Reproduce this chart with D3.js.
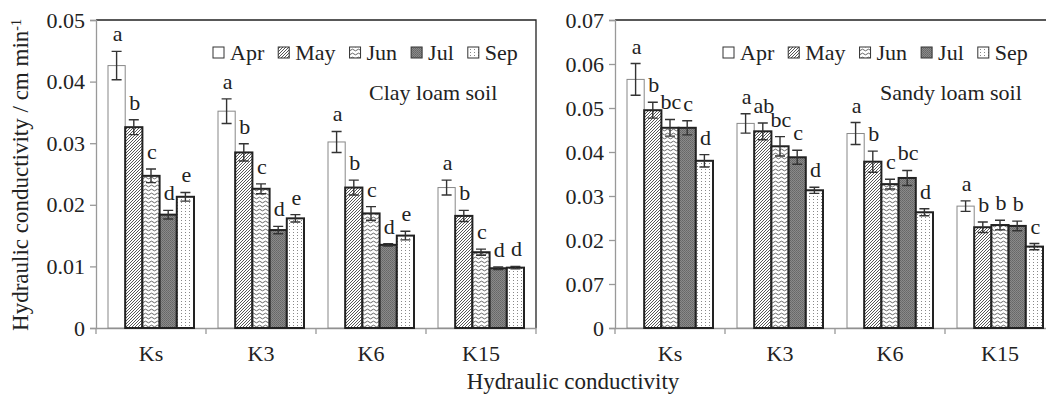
<!DOCTYPE html>
<html lang="en">
<head>
  <meta charset="UTF-8">
  <script src="https://d3js.org/d3.v7.min.js"></script>
  <title>Hydraulic conductivity</title>
  <style>
    body { margin: 0; background: #fff; }
    text { font-family: "Liberation Serif", "DejaVu Serif", serif; fill: #222; }
  </style>
</head>
<body>
  <script>
    // data
    var categories = ["Ks", "K3", "K6", "K15"];
    var months = ["Apr", "May", "Jun", "Jul", "Sep"];

    // clay loam: one row per category, one value per month
    var clayValues = [
      [0.0426, 0.0326, 0.0247, 0.0184, 0.0213],
      [0.0352, 0.0285, 0.0226, 0.0159, 0.0178],
      [0.0302, 0.0228, 0.0186, 0.0135, 0.0150],
      [0.0228, 0.0182, 0.0123, 0.0097, 0.0098]
    ];
    var clayErrors = [
      [0.0023, 0.0012, 0.0011, 0.0007, 0.0007],
      [0.0020, 0.0014, 0.0008, 0.0006, 0.0006],
      [0.0017, 0.0012, 0.0011, 0.0002, 0.0007],
      [0.0012, 0.0009, 0.0005, 0.0002, 0.0002]
    ];
    var clayLetters = [
      ["a", "b", "c", "d", "e"],
      ["a", "b", "c", "d", "e"],
      ["a", "b", "c", "d", "e"],
      ["a", "b", "c", "d", "d"]
    ];

    // sandy loam
    var sandyValues = [
      [0.0565, 0.0495, 0.0455, 0.0455, 0.0380],
      [0.0465, 0.0447, 0.0413, 0.0388, 0.0313],
      [0.0442, 0.0378, 0.0327, 0.0341, 0.0263],
      [0.0277, 0.0229, 0.0234, 0.0232, 0.0185]
    ];
    var sandyErrors = [
      [0.0036, 0.0018, 0.0019, 0.0016, 0.0014],
      [0.0022, 0.0019, 0.0022, 0.0016, 0.0007],
      [0.0025, 0.0024, 0.0011, 0.0017, 0.0008],
      [0.0012, 0.0012, 0.0011, 0.0011, 0.0007]
    ];
    var sandyLetters = [
      ["a", "b", "bc", "c", "d"],
      ["a", "ab", "bc", "c", "d"],
      ["a", "b", "c", "bc", "d"],
      ["a", "b", "b", "b", "c"]
    ];

    var clayTicks = [0, 0.01, 0.02, 0.03, 0.04, 0.05];
    var clayTickLabels = ["0", "0.01", "0.02", "0.03", "0.04", "0.05"];
    var sandyTicks = [0, 0.01, 0.02, 0.03, 0.04, 0.05, 0.06, 0.07];
    var sandyTickLabels = ["0", "0.07", "0.02", "0.03", "0.04", "0.05", "0.06", "0.07"];

    var W = 1046, H = 395;
    var svg = d3.select("body").append("svg")
      .attr("width", W)
      .attr("height", H);

    // fill patterns
    var defs = svg.append("defs");
    var p = defs.append("pattern").attr("id", "pMay")
      .attr("patternUnits", "userSpaceOnUse").attr("width", 3).attr("height", 3);
    p.append("rect").attr("width", 3).attr("height", 3).attr("fill", "#fff");
    p.append("path").attr("d", "M0 3L3 0M-1 1L1 -1M2 4L4 2")
      .attr("stroke", "#444").attr("stroke-width", 0.9);

    p = defs.append("pattern").attr("id", "pJun")
      .attr("patternUnits", "userSpaceOnUse").attr("width", 6).attr("height", 4);
    p.append("rect").attr("width", 6).attr("height", 4).attr("fill", "#fff");
    p.append("path").attr("d", "M0 2Q1.5 0.3 3 2T6 2")
      .attr("fill", "none").attr("stroke", "#555").attr("stroke-width", 0.9);

    p = defs.append("pattern").attr("id", "pJul")
      .attr("patternUnits", "userSpaceOnUse").attr("width", 2).attr("height", 2);
    p.append("rect").attr("width", 2).attr("height", 2).attr("fill", "#8a8a8a");
    p.append("rect").attr("width", 1).attr("height", 1).attr("fill", "#666");
    p.append("rect").attr("x", 1).attr("y", 1).attr("width", 1).attr("height", 1).attr("fill", "#6e6e6e");

    p = defs.append("pattern").attr("id", "pSep")
      .attr("patternUnits", "userSpaceOnUse").attr("width", 4).attr("height", 3);
    p.append("rect").attr("width", 4).attr("height", 3).attr("fill", "#fff");
    p.append("rect").attr("x", 1).attr("y", 1).attr("width", 1).attr("height", 1).attr("fill", "#888");

    var fills = { Apr: "#fff", May: "url(#pMay)", Jun: "url(#pJun)", Jul: "url(#pJul)", Sep: "url(#pSep)" };

    var plotTop = 20, plotBottom = 328;

    function drawPanel(left, width, ymax, ticks, tickLabels, values, errors, letters, title, titleX, legendX) {
      var g = svg.append("g");

      var x = d3.scaleBand().domain(categories).range([left, left + width]);
      var xm = d3.scaleBand().domain(months).range([12, x.bandwidth() - 12]);
      var y = d3.scaleLinear().domain([0, ymax]).range([plotBottom, plotTop]);

      // frame: top and right in black
      g.append("path")
        .attr("d", "M" + left + "," + plotTop + "H" + (left + width) + "V" + plotBottom)
        .attr("fill", "none").attr("stroke", "#222").attr("stroke-width", 1.3);

      // y axis
      var yAxis = d3.axisLeft(y).tickValues(ticks)
        .tickFormat(function (d, i) { return tickLabels[i]; })
        .tickSize(6).tickPadding(5);
      var ga = g.append("g").attr("transform", "translate(" + left + ",0)").call(yAxis);
      ga.select(".domain").attr("stroke", "#999").attr("stroke-width", 1.3);
      ga.selectAll(".tick line").attr("stroke", "#999").attr("stroke-width", 1.3);
      ga.selectAll(".tick text").attr("font-size", 22)
        .attr("font-family", "Liberation Serif").attr("fill", "#222");

      // x axis with ticks between categories
      var xAxis = d3.axisBottom(x).tickSize(0).tickPadding(17);
      var gx = g.append("g").attr("transform", "translate(0," + plotBottom + ")").call(xAxis);
      gx.select(".domain").attr("stroke", "#999").attr("stroke-width", 1.3);
      gx.selectAll(".tick text").attr("font-size", 22)
        .attr("font-family", "Liberation Serif").attr("fill", "#222");
      var edges = categories.map(function (c) { return x(c); }).concat([left + width]);
      g.selectAll(".xsep").data(edges).enter().append("line")
        .attr("x1", function (d) { return d; }).attr("x2", function (d) { return d; })
        .attr("y1", plotBottom).attr("y2", plotBottom + 6)
        .attr("stroke", "#999").attr("stroke-width", 1.3);

      // bars
      var rows = [];
      categories.forEach(function (c, i) {
        months.forEach(function (m, j) {
          rows.push({ c: c, m: m, v: values[i][j], e: errors[i][j], l: letters[i][j] });
        });
      });

      g.selectAll(".bar").data(rows).enter().append("rect")
        .attr("x", function (d) { return x(d.c) + xm(d.m); })
        .attr("y", function (d) { return y(d.v); })
        .attr("width", xm.bandwidth())
        .attr("height", function (d) { return plotBottom - y(d.v); })
        .attr("fill", function (d) { return fills[d.m]; })
        .attr("stroke", function (d) { return d.m === "Apr" ? "#888" : "#222"; })
        .attr("stroke-width", function (d) { return d.m === "Apr" ? 1 : 2; });

      // error bars
      var cap = 5;
      var eb = g.selectAll(".err").data(rows).enter().append("g")
        .attr("transform", function (d) { return "translate(" + (x(d.c) + xm(d.m) + xm.bandwidth() / 2) + ",0)"; });
      eb.append("path")
        .attr("d", function (d) {
          var y1 = y(d.v + d.e), y0 = y(d.v - d.e);
          return "M0," + y0 + "V" + y1 + "M" + (-cap) + "," + y1 + "H" + cap + "M" + (-cap) + "," + y0 + "H" + cap;
        })
        .attr("fill", "none").attr("stroke", "#333").attr("stroke-width", 1.4);

      // significance letters
      g.selectAll(".lt").data(rows).enter().append("text")
        .attr("x", function (d) { return x(d.c) + xm(d.m) + xm.bandwidth() / 2 + 1; })
        .attr("y", function (d) { return y(d.v + d.e) - 10; })
        .attr("text-anchor", "middle")
        .attr("font-size", 22)
        .text(function (d) { return d.l; });

      // panel title
      g.append("text").attr("x", titleX).attr("y", 100).attr("font-size", 22).text(title);

      // legend
      var lg = g.append("g").attr("transform", "translate(" + legendX + ",0)");
      var cx = 0;
      months.forEach(function (m) {
        lg.append("rect").attr("x", cx).attr("y", 47).attr("width", 11).attr("height", 11)
          .attr("fill", fills[m]).attr("stroke", "#333").attr("stroke-width", 1);
        var t = lg.append("text").attr("x", cx + 17).attr("y", 60).attr("font-size", 22).text(m);
        cx += 17 + t.node().getComputedTextLength() + 14;
      });
    }

    drawPanel(96, 440, 0.05, clayTicks, clayTickLabels, clayValues, clayErrors, clayLetters,
      "Clay loam soil", 369, 213);
    drawPanel(615, 440, 0.07, sandyTicks, sandyTickLabels, sandyValues, sandyErrors, sandyLetters,
      "Sandy loam soil", 880, 723);

    // axis titles
    var yt = svg.append("text")
      .attr("transform", "translate(28,175) rotate(-90)")
      .attr("text-anchor", "middle")
      .attr("font-size", 23);
    yt.append("tspan").text("Hydraulic conductivity / cm min");
    yt.append("tspan").attr("baseline-shift", "super").attr("font-size", 14).text("-1");

    svg.append("text")
      .attr("x", 573).attr("y", 389)
      .attr("text-anchor", "middle")
      .attr("font-size", 23)
      .text("Hydraulic conductivity");
  </script>
</body>
</html>
